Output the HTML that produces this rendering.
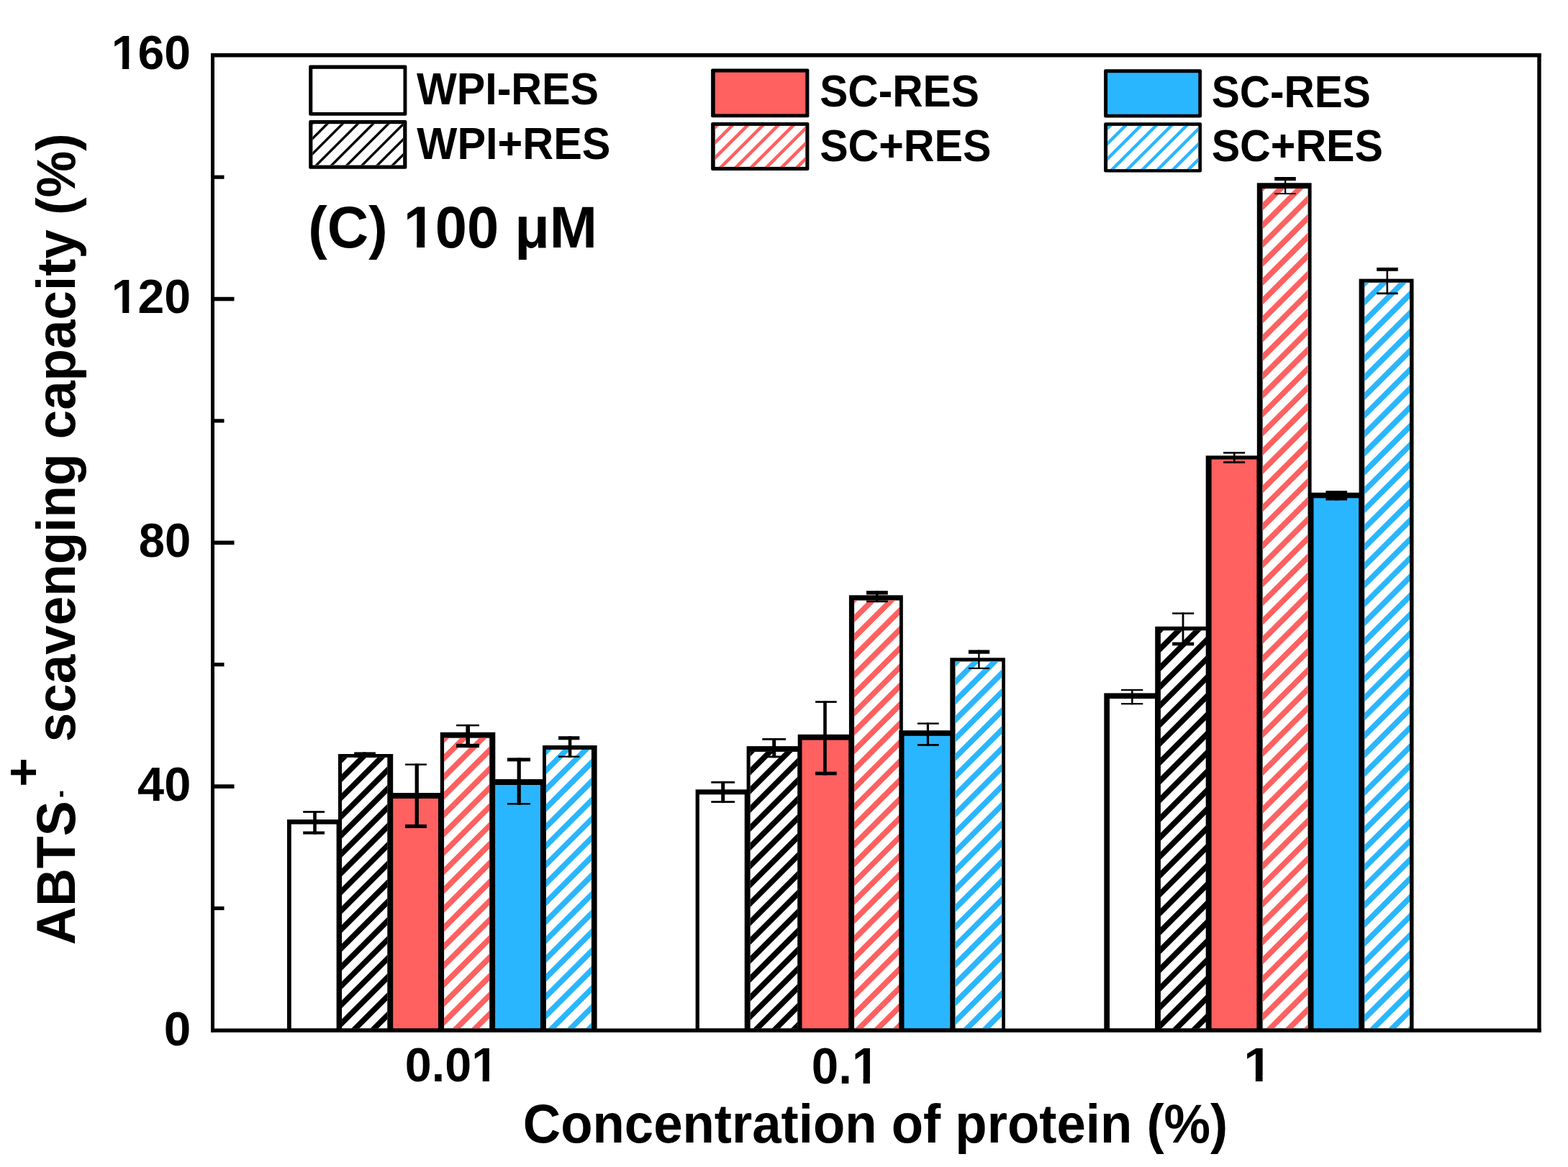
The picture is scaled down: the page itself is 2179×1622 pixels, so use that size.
<!DOCTYPE html>
<html><head><meta charset="utf-8"><title>ABTS scavenging capacity</title><style>html,body{margin:0;padding:0;background:#fff;overflow:hidden}svg{display:block}</style></head><body>
<svg width="2179" height="1622" viewBox="0 0 2179 1622">
<defs><clipPath id="c1"><rect x="475.1" y="1052.8" width="63.2" height="376.7"/></clipPath><clipPath id="c2"><rect x="617.1" y="1025.7" width="63.1" height="403.8"/></clipPath><clipPath id="c3"><rect x="758.9" y="1041.9" width="63" height="387.6"/></clipPath><clipPath id="c4"><rect x="1042.6" y="1044.9" width="65.7" height="384.6"/></clipPath><clipPath id="c5"><rect x="1187.1" y="834.5" width="62.9" height="595"/></clipPath><clipPath id="c6"><rect x="1327.5" y="919.4" width="64.7" height="510.1"/></clipPath><clipPath id="c7"><rect x="1612.9" y="876.3" width="63.1" height="553.2"/></clipPath><clipPath id="c8"><rect x="1754.6" y="262.1" width="63" height="1167.4"/></clipPath><clipPath id="c9"><rect x="1896.2" y="392.8" width="62.8" height="1036.7"/></clipPath><clipPath id="c10"><rect x="434.4" y="172.2" width="125.8" height="57.4"/></clipPath><clipPath id="c11"><rect x="993.7" y="174.9" width="125.6" height="57"/></clipPath><clipPath id="c12"><rect x="1539.1" y="174.9" width="126.2" height="60.2"/></clipPath></defs>
<rect width="2179" height="1622" fill="#fff"/>
<rect x="399" y="1139" width="76.5" height="291.5" fill="#000"/>
<rect x="404.75" y="1145.6" width="62.85" height="283.9" fill="#fff"/>
<rect x="470" y="1048" width="76.2" height="382.5" fill="#000"/>
<rect x="475.1" y="1052.8" width="63.2" height="376.7" fill="#fff"/>
<path clip-path="url(#c1)" fill="#000" d="M474 1050.8L484.9 1050.8L104.2 1431.5L93.3 1431.5ZM500.2 1050.8L511.1 1050.8L130.4 1431.5L119.5 1431.5ZM526.4 1050.8L537.3 1050.8L156.6 1431.5L145.7 1431.5ZM552.6 1050.8L563.5 1050.8L182.8 1431.5L171.9 1431.5ZM578.8 1050.8L589.7 1050.8L209 1431.5L198.1 1431.5ZM605 1050.8L615.9 1050.8L235.2 1431.5L224.3 1431.5ZM631.2 1050.8L642.1 1050.8L261.4 1431.5L250.5 1431.5ZM657.4 1050.8L668.3 1050.8L287.6 1431.5L276.7 1431.5ZM683.6 1050.8L694.5 1050.8L313.8 1431.5L302.9 1431.5ZM709.8 1050.8L720.7 1050.8L340 1431.5L329.1 1431.5ZM736 1050.8L746.9 1050.8L366.2 1431.5L355.3 1431.5ZM762.2 1050.8L773.1 1050.8L392.4 1431.5L381.5 1431.5ZM788.4 1050.8L799.3 1050.8L418.6 1431.5L407.7 1431.5ZM814.6 1050.8L825.5 1050.8L444.8 1431.5L433.9 1431.5ZM840.8 1050.8L851.7 1050.8L471 1431.5L460.1 1431.5ZM867 1050.8L877.9 1050.8L497.2 1431.5L486.3 1431.5ZM893.2 1050.8L904.1 1050.8L523.4 1431.5L512.5 1431.5Z"/>
<rect x="540.7" y="1102" width="76.2" height="328.5" fill="#000"/>
<rect x="546.2" y="1109.9" width="62.8" height="319.6" fill="#FF6060"/>
<rect x="611.8" y="1017.8" width="76.5" height="412.7" fill="#000"/>
<rect x="617.1" y="1025.7" width="63.1" height="403.8" fill="#fff"/>
<path clip-path="url(#c2)" fill="#FF6060" d="M615.3 1023.7L626.2 1023.7L218.4 1431.5L207.5 1431.5ZM641.5 1023.7L652.4 1023.7L244.6 1431.5L233.7 1431.5ZM667.7 1023.7L678.6 1023.7L270.8 1431.5L259.9 1431.5ZM693.9 1023.7L704.8 1023.7L297 1431.5L286.1 1431.5ZM720.1 1023.7L731 1023.7L323.2 1431.5L312.3 1431.5ZM746.3 1023.7L757.2 1023.7L349.4 1431.5L338.5 1431.5ZM772.5 1023.7L783.4 1023.7L375.6 1431.5L364.7 1431.5ZM798.7 1023.7L809.6 1023.7L401.8 1431.5L390.9 1431.5ZM824.9 1023.7L835.8 1023.7L428 1431.5L417.1 1431.5ZM851.1 1023.7L862 1023.7L454.2 1431.5L443.3 1431.5ZM877.3 1023.7L888.2 1023.7L480.4 1431.5L469.5 1431.5ZM903.5 1023.7L914.4 1023.7L506.6 1431.5L495.7 1431.5ZM929.7 1023.7L940.6 1023.7L532.8 1431.5L521.9 1431.5ZM955.9 1023.7L966.8 1023.7L559 1431.5L548.1 1431.5ZM982.1 1023.7L993 1023.7L585.2 1431.5L574.3 1431.5ZM1008.3 1023.7L1019.2 1023.7L611.4 1431.5L600.5 1431.5ZM1034.5 1023.7L1045.4 1023.7L637.6 1431.5L626.7 1431.5ZM1060.7 1023.7L1071.6 1023.7L663.8 1431.5L652.9 1431.5Z"/>
<rect x="682.6" y="1083" width="76" height="347.5" fill="#000"/>
<rect x="688.1" y="1091" width="62.8" height="338.5" fill="#2AB6FF"/>
<rect x="754" y="1036" width="75.6" height="394.5" fill="#000"/>
<rect x="758.9" y="1041.9" width="63" height="387.6" fill="#fff"/>
<path clip-path="url(#c3)" fill="#2AB6FF" d="M758.05 1039.9L768.95 1039.9L377.35 1431.5L366.45 1431.5ZM784.25 1039.9L795.15 1039.9L403.55 1431.5L392.65 1431.5ZM810.45 1039.9L821.35 1039.9L429.75 1431.5L418.85 1431.5ZM836.65 1039.9L847.55 1039.9L455.95 1431.5L445.05 1431.5ZM862.85 1039.9L873.75 1039.9L482.15 1431.5L471.25 1431.5ZM889.05 1039.9L899.95 1039.9L508.35 1431.5L497.45 1431.5ZM915.25 1039.9L926.15 1039.9L534.55 1431.5L523.65 1431.5ZM941.45 1039.9L952.35 1039.9L560.75 1431.5L549.85 1431.5ZM967.65 1039.9L978.55 1039.9L586.95 1431.5L576.05 1431.5ZM993.85 1039.9L1004.75 1039.9L613.15 1431.5L602.25 1431.5ZM1020.05 1039.9L1030.95 1039.9L639.35 1431.5L628.45 1431.5ZM1046.25 1039.9L1057.15 1039.9L665.55 1431.5L654.65 1431.5ZM1072.45 1039.9L1083.35 1039.9L691.75 1431.5L680.85 1431.5ZM1098.65 1039.9L1109.55 1039.9L717.95 1431.5L707.05 1431.5ZM1124.85 1039.9L1135.75 1039.9L744.15 1431.5L733.25 1431.5ZM1151.05 1039.9L1161.95 1039.9L770.35 1431.5L759.45 1431.5ZM1177.25 1039.9L1188.15 1039.9L796.55 1431.5L785.65 1431.5ZM1203.45 1039.9L1214.35 1039.9L822.75 1431.5L811.85 1431.5Z"/>
<rect x="966.6" y="1097.3" width="75.8" height="333.2" fill="#000"/>
<rect x="971.9" y="1104.3" width="62.8" height="325.2" fill="#fff"/>
<rect x="1037.6" y="1037.1" width="78.4" height="393.4" fill="#000"/>
<rect x="1042.6" y="1044.9" width="65.7" height="384.6" fill="#fff"/>
<path clip-path="url(#c4)" fill="#000" d="M1040.2 1042.9L1051.1 1042.9L662.5 1431.5L651.6 1431.5ZM1066.4 1042.9L1077.3 1042.9L688.7 1431.5L677.8 1431.5ZM1092.6 1042.9L1103.5 1042.9L714.9 1431.5L704 1431.5ZM1118.8 1042.9L1129.7 1042.9L741.1 1431.5L730.2 1431.5ZM1145 1042.9L1155.9 1042.9L767.3 1431.5L756.4 1431.5ZM1171.2 1042.9L1182.1 1042.9L793.5 1431.5L782.6 1431.5ZM1197.4 1042.9L1208.3 1042.9L819.7 1431.5L808.8 1431.5ZM1223.6 1042.9L1234.5 1042.9L845.9 1431.5L835 1431.5ZM1249.8 1042.9L1260.7 1042.9L872.1 1431.5L861.2 1431.5ZM1276 1042.9L1286.9 1042.9L898.3 1431.5L887.4 1431.5ZM1302.2 1042.9L1313.1 1042.9L924.5 1431.5L913.6 1431.5ZM1328.4 1042.9L1339.3 1042.9L950.7 1431.5L939.8 1431.5ZM1354.6 1042.9L1365.5 1042.9L976.9 1431.5L966 1431.5ZM1380.8 1042.9L1391.7 1042.9L1003.1 1431.5L992.2 1431.5ZM1407 1042.9L1417.9 1042.9L1029.3 1431.5L1018.4 1431.5ZM1433.2 1042.9L1444.1 1042.9L1055.5 1431.5L1044.6 1431.5ZM1459.4 1042.9L1470.3 1042.9L1081.7 1431.5L1070.8 1431.5ZM1485.6 1042.9L1496.5 1042.9L1107.9 1431.5L1097 1431.5Z"/>
<rect x="1108.7" y="1020.8" width="78.3" height="409.7" fill="#000"/>
<rect x="1114.5" y="1028.6" width="64.8" height="400.9" fill="#FF6060"/>
<rect x="1179.9" y="827.3" width="74.9" height="603.2" fill="#000"/>
<rect x="1187.1" y="834.5" width="62.9" height="595" fill="#fff"/>
<path clip-path="url(#c5)" fill="#FF6060" d="M1182.7 832.5L1193.6 832.5L594.6 1431.5L583.7 1431.5ZM1208.9 832.5L1219.8 832.5L620.8 1431.5L609.9 1431.5ZM1235.1 832.5L1246 832.5L647 1431.5L636.1 1431.5ZM1261.3 832.5L1272.2 832.5L673.2 1431.5L662.3 1431.5ZM1287.5 832.5L1298.4 832.5L699.4 1431.5L688.5 1431.5ZM1313.7 832.5L1324.6 832.5L725.6 1431.5L714.7 1431.5ZM1339.9 832.5L1350.8 832.5L751.8 1431.5L740.9 1431.5ZM1366.1 832.5L1377 832.5L778 1431.5L767.1 1431.5ZM1392.3 832.5L1403.2 832.5L804.2 1431.5L793.3 1431.5ZM1418.5 832.5L1429.4 832.5L830.4 1431.5L819.5 1431.5ZM1444.7 832.5L1455.6 832.5L856.6 1431.5L845.7 1431.5ZM1470.9 832.5L1481.8 832.5L882.8 1431.5L871.9 1431.5ZM1497.1 832.5L1508 832.5L909 1431.5L898.1 1431.5ZM1523.3 832.5L1534.2 832.5L935.2 1431.5L924.3 1431.5ZM1549.5 832.5L1560.4 832.5L961.4 1431.5L950.5 1431.5ZM1575.7 832.5L1586.6 832.5L987.6 1431.5L976.7 1431.5ZM1601.9 832.5L1612.8 832.5L1013.8 1431.5L1002.9 1431.5ZM1628.1 832.5L1639 832.5L1040 1431.5L1029.1 1431.5ZM1654.3 832.5L1665.2 832.5L1066.2 1431.5L1055.3 1431.5ZM1680.5 832.5L1691.4 832.5L1092.4 1431.5L1081.5 1431.5ZM1706.7 832.5L1717.6 832.5L1118.6 1431.5L1107.7 1431.5ZM1732.9 832.5L1743.8 832.5L1144.8 1431.5L1133.9 1431.5ZM1759.1 832.5L1770 832.5L1171 1431.5L1160.1 1431.5ZM1785.3 832.5L1796.2 832.5L1197.2 1431.5L1186.3 1431.5ZM1811.5 832.5L1822.4 832.5L1223.4 1431.5L1212.5 1431.5ZM1837.7 832.5L1848.6 832.5L1249.6 1431.5L1238.7 1431.5Z"/>
<rect x="1249.3" y="1015.2" width="76.4" height="415.3" fill="#000"/>
<rect x="1256.5" y="1022.8" width="64.4" height="406.7" fill="#2AB6FF"/>
<rect x="1320.3" y="914.3" width="76.6" height="516.2" fill="#000"/>
<rect x="1327.5" y="919.4" width="64.7" height="510.1" fill="#fff"/>
<path clip-path="url(#c6)" fill="#2AB6FF" d="M1326.5 917.4L1337.4 917.4L823.3 1431.5L812.4 1431.5ZM1352.7 917.4L1363.6 917.4L849.5 1431.5L838.6 1431.5ZM1378.9 917.4L1389.8 917.4L875.7 1431.5L864.8 1431.5ZM1405.1 917.4L1416 917.4L901.9 1431.5L891 1431.5ZM1431.3 917.4L1442.2 917.4L928.1 1431.5L917.2 1431.5ZM1457.5 917.4L1468.4 917.4L954.3 1431.5L943.4 1431.5ZM1483.7 917.4L1494.6 917.4L980.5 1431.5L969.6 1431.5ZM1509.9 917.4L1520.8 917.4L1006.7 1431.5L995.8 1431.5ZM1536.1 917.4L1547 917.4L1032.9 1431.5L1022 1431.5ZM1562.3 917.4L1573.2 917.4L1059.1 1431.5L1048.2 1431.5ZM1588.5 917.4L1599.4 917.4L1085.3 1431.5L1074.4 1431.5ZM1614.7 917.4L1625.6 917.4L1111.5 1431.5L1100.6 1431.5ZM1640.9 917.4L1651.8 917.4L1137.7 1431.5L1126.8 1431.5ZM1667.1 917.4L1678 917.4L1163.9 1431.5L1153 1431.5ZM1693.3 917.4L1704.2 917.4L1190.1 1431.5L1179.2 1431.5ZM1719.5 917.4L1730.4 917.4L1216.3 1431.5L1205.4 1431.5ZM1745.7 917.4L1756.6 917.4L1242.5 1431.5L1231.6 1431.5ZM1771.9 917.4L1782.8 917.4L1268.7 1431.5L1257.8 1431.5ZM1798.1 917.4L1809 917.4L1294.9 1431.5L1284 1431.5ZM1824.3 917.4L1835.2 917.4L1321.1 1431.5L1310.2 1431.5ZM1850.5 917.4L1861.4 917.4L1347.3 1431.5L1336.4 1431.5ZM1876.7 917.4L1887.6 917.4L1373.5 1431.5L1362.6 1431.5ZM1902.9 917.4L1913.8 917.4L1399.7 1431.5L1388.8 1431.5Z"/>
<rect x="1534.3" y="963.4" width="75.7" height="467.1" fill="#000"/>
<rect x="1542" y="971.1" width="63" height="458.4" fill="#fff"/>
<rect x="1605.2" y="870.8" width="75.8" height="559.7" fill="#000"/>
<rect x="1612.9" y="876.3" width="63.1" height="553.2" fill="#fff"/>
<path clip-path="url(#c7)" fill="#000" d="M1608.1 874.3L1619 874.3L1061.8 1431.5L1050.9 1431.5ZM1634.3 874.3L1645.2 874.3L1088 1431.5L1077.1 1431.5ZM1660.5 874.3L1671.4 874.3L1114.2 1431.5L1103.3 1431.5ZM1686.7 874.3L1697.6 874.3L1140.4 1431.5L1129.5 1431.5ZM1712.9 874.3L1723.8 874.3L1166.6 1431.5L1155.7 1431.5ZM1739.1 874.3L1750 874.3L1192.8 1431.5L1181.9 1431.5ZM1765.3 874.3L1776.2 874.3L1219 1431.5L1208.1 1431.5ZM1791.5 874.3L1802.4 874.3L1245.2 1431.5L1234.3 1431.5ZM1817.7 874.3L1828.6 874.3L1271.4 1431.5L1260.5 1431.5ZM1843.9 874.3L1854.8 874.3L1297.6 1431.5L1286.7 1431.5ZM1870.1 874.3L1881 874.3L1323.8 1431.5L1312.9 1431.5ZM1896.3 874.3L1907.2 874.3L1350 1431.5L1339.1 1431.5ZM1922.5 874.3L1933.4 874.3L1376.2 1431.5L1365.3 1431.5ZM1948.7 874.3L1959.6 874.3L1402.4 1431.5L1391.5 1431.5ZM1974.9 874.3L1985.8 874.3L1428.6 1431.5L1417.7 1431.5ZM2001.1 874.3L2012 874.3L1454.8 1431.5L1443.9 1431.5ZM2027.3 874.3L2038.2 874.3L1481 1431.5L1470.1 1431.5ZM2053.5 874.3L2064.4 874.3L1507.2 1431.5L1496.3 1431.5ZM2079.7 874.3L2090.6 874.3L1533.4 1431.5L1522.5 1431.5ZM2105.9 874.3L2116.8 874.3L1559.6 1431.5L1548.7 1431.5ZM2132.1 874.3L2143 874.3L1585.8 1431.5L1574.9 1431.5ZM2158.3 874.3L2169.2 874.3L1612 1431.5L1601.1 1431.5ZM2184.5 874.3L2195.4 874.3L1638.2 1431.5L1627.3 1431.5ZM2210.7 874.3L2221.6 874.3L1664.4 1431.5L1653.5 1431.5Z"/>
<rect x="1675.7" y="633.3" width="75.8" height="797.2" fill="#000"/>
<rect x="1683.6" y="638.5" width="62.9" height="791" fill="#FF6060"/>
<rect x="1746.8" y="254.3" width="75.8" height="1176.2" fill="#000"/>
<rect x="1754.6" y="262.1" width="63" height="1167.4" fill="#fff"/>
<path clip-path="url(#c8)" fill="#FF6060" d="M1749.95 260.1L1760.85 260.1L589.45 1431.5L578.55 1431.5ZM1776.15 260.1L1787.05 260.1L615.65 1431.5L604.75 1431.5ZM1802.35 260.1L1813.25 260.1L641.85 1431.5L630.95 1431.5ZM1828.55 260.1L1839.45 260.1L668.05 1431.5L657.15 1431.5ZM1854.75 260.1L1865.65 260.1L694.25 1431.5L683.35 1431.5ZM1880.95 260.1L1891.85 260.1L720.45 1431.5L709.55 1431.5ZM1907.15 260.1L1918.05 260.1L746.65 1431.5L735.75 1431.5ZM1933.35 260.1L1944.25 260.1L772.85 1431.5L761.95 1431.5ZM1959.55 260.1L1970.45 260.1L799.05 1431.5L788.15 1431.5ZM1985.75 260.1L1996.65 260.1L825.25 1431.5L814.35 1431.5ZM2011.95 260.1L2022.85 260.1L851.45 1431.5L840.55 1431.5ZM2038.15 260.1L2049.05 260.1L877.65 1431.5L866.75 1431.5ZM2064.35 260.1L2075.25 260.1L903.85 1431.5L892.95 1431.5ZM2090.55 260.1L2101.45 260.1L930.05 1431.5L919.15 1431.5ZM2116.75 260.1L2127.65 260.1L956.25 1431.5L945.35 1431.5ZM2142.95 260.1L2153.85 260.1L982.45 1431.5L971.55 1431.5ZM2169.15 260.1L2180.05 260.1L1008.65 1431.5L997.75 1431.5ZM2195.35 260.1L2206.25 260.1L1034.85 1431.5L1023.95 1431.5ZM2221.55 260.1L2232.45 260.1L1061.05 1431.5L1050.15 1431.5ZM2247.75 260.1L2258.65 260.1L1087.25 1431.5L1076.35 1431.5ZM2273.95 260.1L2284.85 260.1L1113.45 1431.5L1102.55 1431.5ZM2300.15 260.1L2311.05 260.1L1139.65 1431.5L1128.75 1431.5ZM2326.35 260.1L2337.25 260.1L1165.85 1431.5L1154.95 1431.5ZM2352.55 260.1L2363.45 260.1L1192.05 1431.5L1181.15 1431.5ZM2378.75 260.1L2389.65 260.1L1218.25 1431.5L1207.35 1431.5ZM2404.95 260.1L2415.85 260.1L1244.45 1431.5L1233.55 1431.5ZM2431.15 260.1L2442.05 260.1L1270.65 1431.5L1259.75 1431.5ZM2457.35 260.1L2468.25 260.1L1296.85 1431.5L1285.95 1431.5ZM2483.55 260.1L2494.45 260.1L1323.05 1431.5L1312.15 1431.5ZM2509.75 260.1L2520.65 260.1L1349.25 1431.5L1338.35 1431.5ZM2535.95 260.1L2546.85 260.1L1375.45 1431.5L1364.55 1431.5ZM2562.15 260.1L2573.05 260.1L1401.65 1431.5L1390.75 1431.5ZM2588.35 260.1L2599.25 260.1L1427.85 1431.5L1416.95 1431.5ZM2614.55 260.1L2625.45 260.1L1454.05 1431.5L1443.15 1431.5ZM2640.75 260.1L2651.65 260.1L1480.25 1431.5L1469.35 1431.5ZM2666.95 260.1L2677.85 260.1L1506.45 1431.5L1495.55 1431.5ZM2693.15 260.1L2704.05 260.1L1532.65 1431.5L1521.75 1431.5ZM2719.35 260.1L2730.25 260.1L1558.85 1431.5L1547.95 1431.5ZM2745.55 260.1L2756.45 260.1L1585.05 1431.5L1574.15 1431.5ZM2771.75 260.1L2782.65 260.1L1611.25 1431.5L1600.35 1431.5ZM2797.95 260.1L2808.85 260.1L1637.45 1431.5L1626.55 1431.5ZM2824.15 260.1L2835.05 260.1L1663.65 1431.5L1652.75 1431.5ZM2850.35 260.1L2861.25 260.1L1689.85 1431.5L1678.95 1431.5ZM2876.55 260.1L2887.45 260.1L1716.05 1431.5L1705.15 1431.5ZM2902.75 260.1L2913.65 260.1L1742.25 1431.5L1731.35 1431.5ZM2928.95 260.1L2939.85 260.1L1768.45 1431.5L1757.55 1431.5ZM2955.15 260.1L2966.05 260.1L1794.65 1431.5L1783.75 1431.5ZM2981.35 260.1L2992.25 260.1L1820.85 1431.5L1809.95 1431.5Z"/>
<rect x="1817.9" y="684.7" width="75.4" height="745.8" fill="#000"/>
<rect x="1825.5" y="692.3" width="62.8" height="737.2" fill="#2AB6FF"/>
<rect x="1888.6" y="387.6" width="75.9" height="1042.9" fill="#000"/>
<rect x="1896.2" y="392.8" width="62.8" height="1036.7" fill="#fff"/>
<path clip-path="url(#c9)" fill="#2AB6FF" d="M1893.7 390.8L1904.6 390.8L863.9 1431.5L853 1431.5ZM1919.9 390.8L1930.8 390.8L890.1 1431.5L879.2 1431.5ZM1946.1 390.8L1957 390.8L916.3 1431.5L905.4 1431.5ZM1972.3 390.8L1983.2 390.8L942.5 1431.5L931.6 1431.5ZM1998.5 390.8L2009.4 390.8L968.7 1431.5L957.8 1431.5ZM2024.7 390.8L2035.6 390.8L994.9 1431.5L984 1431.5ZM2050.9 390.8L2061.8 390.8L1021.1 1431.5L1010.2 1431.5ZM2077.1 390.8L2088 390.8L1047.3 1431.5L1036.4 1431.5ZM2103.3 390.8L2114.2 390.8L1073.5 1431.5L1062.6 1431.5ZM2129.5 390.8L2140.4 390.8L1099.7 1431.5L1088.8 1431.5ZM2155.7 390.8L2166.6 390.8L1125.9 1431.5L1115 1431.5ZM2181.9 390.8L2192.8 390.8L1152.1 1431.5L1141.2 1431.5ZM2208.1 390.8L2219 390.8L1178.3 1431.5L1167.4 1431.5ZM2234.3 390.8L2245.2 390.8L1204.5 1431.5L1193.6 1431.5ZM2260.5 390.8L2271.4 390.8L1230.7 1431.5L1219.8 1431.5ZM2286.7 390.8L2297.6 390.8L1256.9 1431.5L1246 1431.5ZM2312.9 390.8L2323.8 390.8L1283.1 1431.5L1272.2 1431.5ZM2339.1 390.8L2350 390.8L1309.3 1431.5L1298.4 1431.5ZM2365.3 390.8L2376.2 390.8L1335.5 1431.5L1324.6 1431.5ZM2391.5 390.8L2402.4 390.8L1361.7 1431.5L1350.8 1431.5ZM2417.7 390.8L2428.6 390.8L1387.9 1431.5L1377 1431.5ZM2443.9 390.8L2454.8 390.8L1414.1 1431.5L1403.2 1431.5ZM2470.1 390.8L2481 390.8L1440.3 1431.5L1429.4 1431.5ZM2496.3 390.8L2507.2 390.8L1466.5 1431.5L1455.6 1431.5ZM2522.5 390.8L2533.4 390.8L1492.7 1431.5L1481.8 1431.5ZM2548.7 390.8L2559.6 390.8L1518.9 1431.5L1508 1431.5ZM2574.9 390.8L2585.8 390.8L1545.1 1431.5L1534.2 1431.5ZM2601.1 390.8L2612 390.8L1571.3 1431.5L1560.4 1431.5ZM2627.3 390.8L2638.2 390.8L1597.5 1431.5L1586.6 1431.5ZM2653.5 390.8L2664.4 390.8L1623.7 1431.5L1612.8 1431.5ZM2679.7 390.8L2690.6 390.8L1649.9 1431.5L1639 1431.5ZM2705.9 390.8L2716.8 390.8L1676.1 1431.5L1665.2 1431.5ZM2732.1 390.8L2743 390.8L1702.3 1431.5L1691.4 1431.5ZM2758.3 390.8L2769.2 390.8L1728.5 1431.5L1717.6 1431.5ZM2784.5 390.8L2795.4 390.8L1754.7 1431.5L1743.8 1431.5ZM2810.7 390.8L2821.6 390.8L1780.9 1431.5L1770 1431.5ZM2836.9 390.8L2847.8 390.8L1807.1 1431.5L1796.2 1431.5ZM2863.1 390.8L2874 390.8L1833.3 1431.5L1822.4 1431.5ZM2889.3 390.8L2900.2 390.8L1859.5 1431.5L1848.6 1431.5ZM2915.5 390.8L2926.4 390.8L1885.7 1431.5L1874.8 1431.5ZM2941.7 390.8L2952.6 390.8L1911.9 1431.5L1901 1431.5ZM2967.9 390.8L2978.8 390.8L1938.1 1431.5L1927.2 1431.5ZM2994.1 390.8L3005 390.8L1964.3 1431.5L1953.4 1431.5Z"/>
<rect x="435.2" y="1127" width="4.6" height="32.6" fill="#000"/>
<rect x="421.2" y="1127" width="29.8" height="2.8" fill="#000"/>
<rect x="421.2" y="1155.5" width="29.8" height="4.1" fill="#000"/>
<rect x="504.5" y="1045.4" width="4.5" height="7.4" fill="#000"/>
<rect x="492.2" y="1045.4" width="29.7" height="3.1" fill="#000"/>
<rect x="492.2" y="1049.5" width="29.7" height="3.3" fill="#000"/>
<rect x="576.6" y="1061.4" width="5.3" height="89.5" fill="#000"/>
<rect x="563.1" y="1061.4" width="29.8" height="2.4" fill="#000"/>
<rect x="563.1" y="1145.9" width="29.8" height="5" fill="#000"/>
<rect x="647.4" y="1006.9" width="5.6" height="32.2" fill="#000"/>
<rect x="634.1" y="1006.9" width="31.9" height="2.5" fill="#000"/>
<rect x="634.1" y="1033.8" width="31.9" height="5.3" fill="#000"/>
<rect x="718.6" y="1053.3" width="5.2" height="65.2" fill="#000"/>
<rect x="705" y="1053.3" width="32" height="5" fill="#000"/>
<rect x="705" y="1116" width="32" height="2.5" fill="#000"/>
<rect x="789.8" y="1023.3" width="4.5" height="29.4" fill="#000"/>
<rect x="776" y="1023.3" width="29.4" height="5" fill="#000"/>
<rect x="776" y="1050.5" width="29.4" height="2.2" fill="#000"/>
<rect x="1002.2" y="1085.9" width="5" height="30" fill="#000"/>
<rect x="988.3" y="1085.9" width="32.7" height="2.8" fill="#000"/>
<rect x="988.3" y="1113.1" width="32.7" height="2.8" fill="#000"/>
<rect x="1073.2" y="1026" width="5" height="27.2" fill="#000"/>
<rect x="1059.3" y="1026" width="32.7" height="2.8" fill="#000"/>
<rect x="1059.3" y="1050.4" width="32.7" height="2.8" fill="#000"/>
<rect x="1144.2" y="974.2" width="4.6" height="103.2" fill="#000"/>
<rect x="1133.1" y="974.2" width="29.6" height="2.7" fill="#000"/>
<rect x="1133.1" y="1072.6" width="29.6" height="4.8" fill="#000"/>
<rect x="1217" y="821.2" width="3.5" height="16" fill="#000"/>
<rect x="1204" y="821.2" width="29.8" height="5.3" fill="#000"/>
<rect x="1204" y="834.5" width="29.8" height="2.7" fill="#000"/>
<rect x="1287.8" y="1004.4" width="3.2" height="32.4" fill="#000"/>
<rect x="1275" y="1004.4" width="29.7" height="2.4" fill="#000"/>
<rect x="1275" y="1034.1" width="29.7" height="2.7" fill="#000"/>
<rect x="1359.2" y="903.4" width="2.4" height="26.5" fill="#000"/>
<rect x="1345.9" y="903.4" width="29.3" height="5.3" fill="#000"/>
<rect x="1345.9" y="927.8" width="29.3" height="2.1" fill="#000"/>
<rect x="1572.1" y="957.9" width="2.5" height="21.4" fill="#000"/>
<rect x="1558" y="957.9" width="30.3" height="2.2" fill="#000"/>
<rect x="1558" y="977.1" width="30.3" height="2.2" fill="#000"/>
<rect x="1642.6" y="851.3" width="2.8" height="46" fill="#000"/>
<rect x="1629.1" y="851.3" width="30.1" height="2.5" fill="#000"/>
<rect x="1629.1" y="892.6" width="30.1" height="4.7" fill="#000"/>
<rect x="1714" y="628" width="2.6" height="15.9" fill="#000"/>
<rect x="1700.1" y="628" width="30" height="2.6" fill="#000"/>
<rect x="1700.1" y="641.2" width="30" height="2.7" fill="#000"/>
<rect x="1785" y="246" width="2.3" height="24.1" fill="#000"/>
<rect x="1771.2" y="246" width="29.6" height="5.1" fill="#000"/>
<rect x="1771.2" y="268.3" width="29.6" height="1.8" fill="#000"/>
<rect x="1855" y="682.1" width="4.5" height="13.4" fill="#000"/>
<rect x="1842.4" y="682.1" width="29.7" height="3.9" fill="#000"/>
<rect x="1842.4" y="691.5" width="29.7" height="4" fill="#000"/>
<rect x="1926.5" y="371.9" width="2.6" height="37.3" fill="#000"/>
<rect x="1913.1" y="371.9" width="29.6" height="4.9" fill="#000"/>
<rect x="1913.1" y="406.4" width="29.6" height="2.8" fill="#000"/>
<rect x="293" y="74" width="1848.7" height="5.5" fill="#000"/>
<rect x="293" y="1429.5" width="1848.7" height="5.4" fill="#000"/>
<rect x="293" y="74" width="5" height="1360.9" fill="#000"/>
<rect x="2136.3" y="74" width="5.4" height="1360.9" fill="#000"/>
<rect x="298" y="1090.25" width="27.5" height="5.6" fill="#000"/>
<rect x="298" y="751.5" width="27.5" height="5.6" fill="#000"/>
<rect x="298" y="412.75" width="27.5" height="5.6" fill="#000"/>
<rect x="298" y="1259.83" width="13.5" height="5.2" fill="#000"/>
<rect x="298" y="921.07" width="13.5" height="5.2" fill="#000"/>
<rect x="298" y="582.32" width="13.5" height="5.2" fill="#000"/>
<rect x="298" y="243.57" width="13.5" height="5.2" fill="#000"/>
<rect x="429.2" y="90.5" width="136.2" height="70.3" rx="2" fill="#000"/>
<rect x="434.3" y="95.8" width="126.2" height="60.2" fill="#fff"/>
<rect x="429.2" y="167" width="136.2" height="67.8" rx="2" fill="#000"/>
<rect x="434.4" y="172.2" width="125.8" height="57.4" fill="#fff"/>
<path clip-path="url(#c10)" fill="#000" d="M433.1 170.2L437.9 170.2L376.5 231.6L371.7 231.6ZM454.3 170.2L459.1 170.2L397.7 231.6L392.9 231.6ZM475.5 170.2L480.3 170.2L418.9 231.6L414.1 231.6ZM496.7 170.2L501.5 170.2L440.1 231.6L435.3 231.6ZM517.9 170.2L522.7 170.2L461.3 231.6L456.5 231.6ZM539.1 170.2L543.9 170.2L482.5 231.6L477.7 231.6ZM560.3 170.2L565.1 170.2L503.7 231.6L498.9 231.6ZM581.5 170.2L586.3 170.2L524.9 231.6L520.1 231.6ZM602.7 170.2L607.5 170.2L546.1 231.6L541.3 231.6Z"/>
<rect x="988.1" y="95.5" width="136.3" height="67.7" rx="2" fill="#000"/>
<rect x="993.7" y="100.6" width="125.6" height="57.8" fill="#FF6060"/>
<rect x="988.1" y="169.9" width="136.3" height="67.2" rx="2" fill="#000"/>
<rect x="993.7" y="174.9" width="125.6" height="57" fill="#fff"/>
<path clip-path="url(#c11)" fill="#FF6060" d="M994.55 172.9L1000.95 172.9L939.95 233.9L933.55 233.9ZM1015.75 172.9L1022.15 172.9L961.15 233.9L954.75 233.9ZM1036.95 172.9L1043.35 172.9L982.35 233.9L975.95 233.9ZM1058.15 172.9L1064.55 172.9L1003.55 233.9L997.15 233.9ZM1079.35 172.9L1085.75 172.9L1024.75 233.9L1018.35 233.9ZM1100.55 172.9L1106.95 172.9L1045.95 233.9L1039.55 233.9ZM1121.75 172.9L1128.15 172.9L1067.15 233.9L1060.75 233.9ZM1142.95 172.9L1149.35 172.9L1088.35 233.9L1081.95 233.9ZM1164.15 172.9L1170.55 172.9L1109.55 233.9L1103.15 233.9Z"/>
<rect x="1534.1" y="96.2" width="135.9" height="67.2" rx="2" fill="#000"/>
<rect x="1539.1" y="101.2" width="126.2" height="57.6" fill="#2AB6FF"/>
<rect x="1534.1" y="170.3" width="135.9" height="69.2" rx="2" fill="#000"/>
<rect x="1539.1" y="174.9" width="126.2" height="60.2" fill="#fff"/>
<path clip-path="url(#c12)" fill="#2AB6FF" d="M1541.5 172.9L1547.7 172.9L1483.5 237.1L1477.3 237.1ZM1562.7 172.9L1568.9 172.9L1504.7 237.1L1498.5 237.1ZM1583.9 172.9L1590.1 172.9L1525.9 237.1L1519.7 237.1ZM1605.1 172.9L1611.3 172.9L1547.1 237.1L1540.9 237.1ZM1626.3 172.9L1632.5 172.9L1568.3 237.1L1562.1 237.1ZM1647.5 172.9L1653.7 172.9L1589.5 237.1L1583.3 237.1ZM1668.7 172.9L1674.9 172.9L1610.7 237.1L1604.5 237.1ZM1689.9 172.9L1696.1 172.9L1631.9 237.1L1625.7 237.1ZM1711.1 172.9L1717.3 172.9L1653.1 237.1L1646.9 237.1Z"/>
<g font-family="Liberation Sans, Arial, sans-serif" font-weight="bold" fill="#000" style="font-kerning:none">
<g transform="translate(154.66 95.5) scale(0.9866 1)"><text x="0" y="0" font-size="67">160</text><rect x="3.271" y="-7.837" width="12.366" height="9.037" fill="#fff"/><rect x="24.831" y="-7.837" width="11.483" height="9.037" fill="#fff"/></g>
<g transform="translate(154.76 434.8) scale(0.9876 1)"><text x="0" y="0" font-size="67">120</text><rect x="3.271" y="-7.837" width="12.366" height="9.037" fill="#fff"/><rect x="24.831" y="-7.837" width="11.483" height="9.037" fill="#fff"/></g>
<g transform="translate(192.71 774.3) scale(0.9741 1)"><text x="0" y="0" font-size="67">80</text></g>
<g transform="translate(191.1 1112.9) scale(0.9965 1)"><text x="0" y="0" font-size="67">40</text></g>
<g transform="translate(227.73 1453.2) scale(1.0079 1)"><text x="0" y="0" font-size="67">0</text></g>
<g transform="translate(562.77 1503) scale(0.9922 1)"><text x="0" y="0" font-size="67">0.01</text><rect x="96.411" y="-7.837" width="12.366" height="9.037" fill="#fff"/><rect x="117.97" y="-7.837" width="11.483" height="9.037" fill="#fff"/></g>
<g transform="translate(1127.76 1505.6) scale(0.9615 1)"><text x="0" y="0" font-size="70">0.1</text><rect x="61.797" y="-8.144" width="12.92" height="9.344" fill="#fff"/><rect x="84.321" y="-8.144" width="11.997" height="9.344" fill="#fff"/></g>
<g transform="translate(1728.21 1502.8) scale(1.0634 1)"><text x="0" y="0" font-size="67">1</text><rect x="3.271" y="-7.837" width="12.366" height="9.037" fill="#fff"/><rect x="24.831" y="-7.837" width="11.483" height="9.037" fill="#fff"/></g>
<g transform="translate(428.32 343.8) scale(0.9688 1)"><text x="0" y="0" font-size="82">(C) 100 μM</text><rect x="140.617" y="-9.368" width="15.135" height="10.568" fill="#fff"/><rect x="167.003" y="-9.368" width="14.054" height="10.568" fill="#fff"/></g>
<g transform="translate(579 144.9) scale(0.9359 1)"><text x="0" y="0" font-size="63.2">WPI-RES</text></g>
<g transform="translate(579.3 221.2) scale(0.9406 1)"><text x="0" y="0" font-size="63.2">WPI+RES</text></g>
<g transform="translate(1139.14 148) scale(0.9285 1)"><text x="0" y="0" font-size="63.2">SC-RES</text></g>
<g transform="translate(1139.13 223.6) scale(0.9359 1)"><text x="0" y="0" font-size="63.2">SC+RES</text></g>
<g transform="translate(1683.65 148.5) scale(0.9268 1)"><text x="0" y="0" font-size="63.2">SC-RES</text></g>
<g transform="translate(1683.63 223.8) scale(0.9363 1)"><text x="0" y="0" font-size="63.2">SC+RES</text></g>
<g transform="translate(726.74 1587.5) scale(0.9548 1)"><text x="0" y="0" font-size="76">Concentration of protein (%)</text></g>
<g transform="rotate(-90)"><g transform="translate(-1313.13 104.4) scale(0.9668 1)"><text x="0" y="0" font-size="76">ABTS</text></g></g>
<g transform="rotate(-90)"><g transform="translate(-1031.13 104.4) scale(0.9582 1)"><text x="0" y="0" font-size="76">scavenging capacity (%)</text></g></g>
<g transform="rotate(-90)"><g transform="translate(-1093.82 55.3) scale(1.0058 1)"><text x="0" y="0" font-size="69">+</text></g></g>
<g transform="rotate(-90)"><g transform="translate(-1111.3 96.26) scale(1.7333 1)"><text x="0" y="0" font-size="32">·</text></g></g>
</g></svg>
</body></html>
